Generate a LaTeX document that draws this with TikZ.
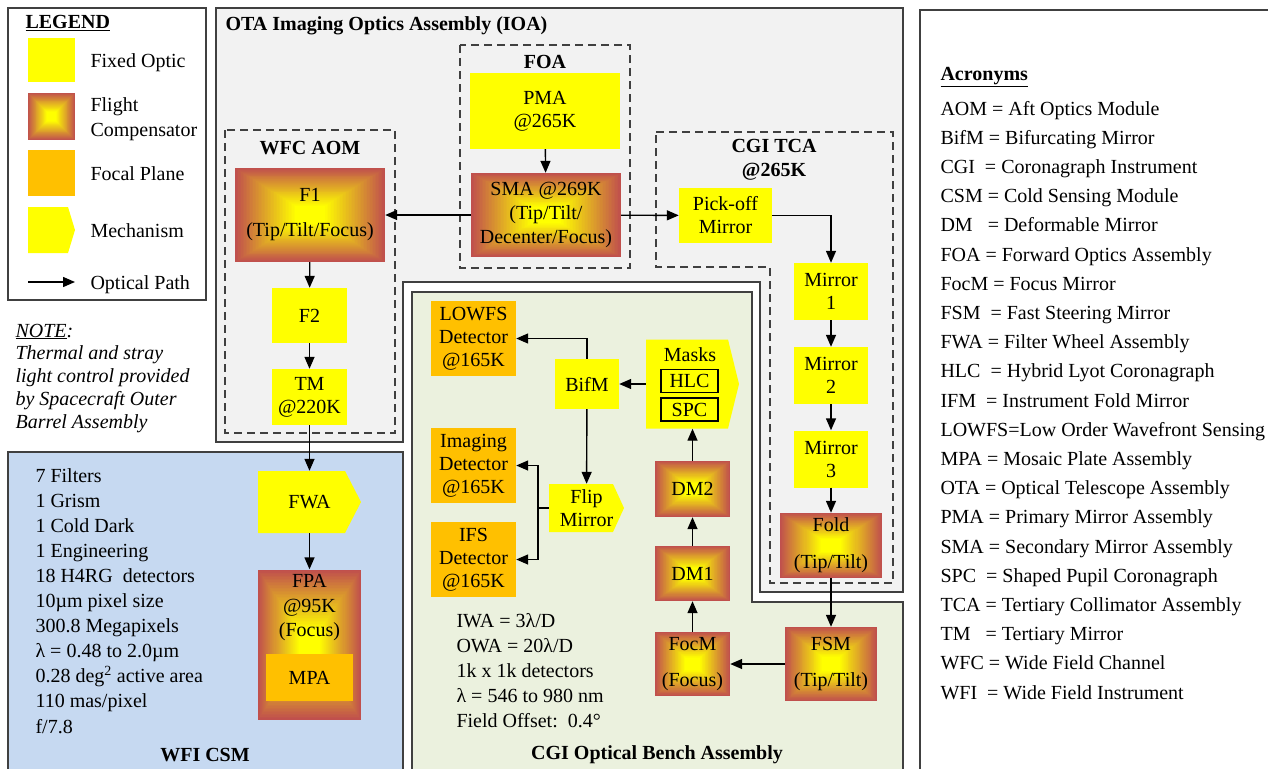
\documentclass[tikz,border=0pt]{standalone}
\usepackage{fontspec}
\setmainfont{Liberation Serif}
\usetikzlibrary{arrows.meta,calc}

\definecolor{fixedyellow}{HTML}{FFFF00}
\definecolor{focalorange}{HTML}{FFC000}
\definecolor{compred}{HTML}{C0504D}
\definecolor{otagray}{HTML}{F2F2F2}
\definecolor{benchgreen}{HTML}{EBF1DE}
\definecolor{wfiblue}{HTML}{C6D9F1}
\definecolor{edgegray}{HTML}{404040}

\tikzset{
  fixedbox/.style={fill=fixedyellow, align=center, inner sep=0pt},
  focalbox/.style={fill=focalorange, align=center, inner sep=0pt},
  compbox/.style={fill=compred, align=center, inner sep=0pt,
    path picture={
      \foreach \k in {0,...,48}{
        \pgfmathtruncatemacro{\pct}{min(100,2.5*\k)}
        \fill[fixedyellow!\pct!compred]
          ($(path picture bounding box.south west)!\k/100!(path picture bounding box.north east)$)
          rectangle
          ($(path picture bounding box.north east)!\k/100!(path picture bounding box.south west)$);
      }}},
  mechbox/.style={align=center, inner sep=0pt,
    path picture={
      \fill[fixedyellow] (path picture bounding box.north west)
        -- ([xshift=-#1]path picture bounding box.north east)
        -- (path picture bounding box.east)
        -- ([xshift=-#1]path picture bounding box.south east)
        -- (path picture bounding box.south west) -- cycle;}},
  mechbox/.default=14pt,
  dashbox/.style={draw=edgegray, line width=1.5pt, dash pattern=on 8pt off 5pt},
  panel/.style={draw=edgegray, line width=1.6pt},
  optpath/.style={->, line width=1.4pt}
}

\begin{document}
\begin{tikzpicture}[x=1pt, y=-1pt, >={Triangle[length=12pt, width=10pt]},
  font=\fontsize{20}{23}\selectfont]
\useasboundingbox (0,0) rectangle (1268,768);

% panels
\draw[panel, fill=white] (8,8) rectangle (206,300);
\draw[panel, fill=otagray] (216,8) -- (903,8) -- (903,592) -- (760,592) -- (760,282)
  -- (403,282) -- (403,442) -- (216,442) -- cycle;
\draw[panel, fill=benchgreen] (412,292) -- (752,292) -- (752,602) -- (903,602)
  -- (903,780) -- (412,780) -- cycle;
\draw[panel, fill=wfiblue] (8,452) rectangle (403,780);
\draw[panel, fill=white] (920,10) rectangle (1280,780);

% dashed sub-assemblies
\draw[dashbox] (460,45) rectangle (630,268);
\draw[dashbox] (225,130) rectangle (395,433);
\draw[dashbox] (656,132) -- (893,132) -- (893,583) -- (770,583) -- (770,267)
  -- (656,267) -- cycle;

% legend
\node[anchor=base west] (legtitle) at (22,29) {\bfseries\underline{LEGEND}};
\node[fixedbox, minimum width=47, minimum height=44] (legfixed) at (51.5,60) {};
\node[compbox, minimum width=47, minimum height=47] (legcomp) at (51.5,116.5) {};
\node[focalbox, minimum width=47, minimum height=46] (legfocal) at (51.5,173) {};
\node[mechbox=7pt, minimum width=47, minimum height=46] (legmech) at (51.5,230) {};
\node[anchor=base west] (lfixed) at (87,67) {Fixed Optic};
\node[anchor=base west] (lcompA) at (87,111) {Flight};
\node[anchor=base west] (lcompB) at (87,136) {Compensator};
\node[anchor=base west] (lfocal) at (87,180) {Focal Plane};
\node[anchor=base west] (lmech) at (87,237) {Mechanism};
\coordinate (legA) at (28,282);
\coordinate (legB) at (75,282);
\draw[optpath] (legA) -- (legB);
\node[anchor=base west] (lpath) at (87,289) {Optical Path};

% note
\node[anchor=base west] (noteA) at (12,337) {\itshape\underline{NOTE}:};
\foreach \txt [count=\i] in {Thermal and stray, light control provided,
    by Spacecraft Outer, Barrel Assembly}
  \node[anchor=base west] (note\i) at (12,336+23*\i) {\itshape\txt};

% titles
\node[anchor=base west] (otatitle) at (222,31) {\bfseries OTA Imaging Optics Assembly (IOA)};
\node (foatitle) at (545,62) {\bfseries FOA};
\node (wfctitle) at (310,148) {\bfseries WFC AOM};
\node[align=center, font=\fontsize{20}{24}\selectfont\bfseries] (tcatitle) at (774,160) {CGI TCA\\@265K};
\node (benchtitle) at (657,755) {\bfseries CGI Optical Bench Assembly};
\node (wfititle) at (205,755) {\bfseries WFI CSM};

% OTA optics
\node[fixedbox, minimum width=150, minimum height=76] (pma) at (545,111) {PMA\\@265K};
\node[compbox, minimum width=150, minimum height=84, font=\fontsize{20}{24}\selectfont]
  (sma) at (546,215) {SMA @269K\\(Tip/Tilt/\\Decenter/Focus)};
\node[compbox, minimum width=150, minimum height=94] (fone) at (310,215) {F1\\[12pt](Tip/Tilt/Focus)};
\node[fixedbox, minimum width=75, minimum height=55] (ftwo) at (309.5,315.5) {F2};
\node[fixedbox, minimum width=75, minimum height=56] (tm) at (309.5,397) {TM\\@220K};

% CGI TCA
\node[fixedbox, minimum width=93, minimum height=55] (pick) at (725.5,215.5) {Pick-off\\Mirror};
\node[fixedbox, minimum width=74, minimum height=57] (mirA) at (831,291.5) {Mirror\\1};
\node[fixedbox, minimum width=74, minimum height=57] (mirB) at (831,375.5) {Mirror\\2};
\node[fixedbox, minimum width=74, minimum height=57] (mirC) at (831,459) {Mirror\\3};
\node[compbox, minimum width=102, minimum height=65] (fold) at (831,545.5) {Fold\\[14pt](Tip/Tilt)};

% CGI optical bench
\node[compbox, minimum width=92, minimum height=74] (fsm) at (831,664) {FSM\\[13pt](Tip/Tilt)};
\node[compbox, minimum width=75, minimum height=64] (focm) at (692.5,664) {FocM\\[13pt](Focus)};
\node[compbox, minimum width=75, minimum height=55] (dmone) at (692.5,573.5) {DM1};
\node[compbox, minimum width=75, minimum height=56] (dmtwo) at (692.5,489) {DM2};
\node[mechbox=11pt, minimum width=93, minimum height=89] (masks) at (692.5,384) {};
\node (maskstxt) at (690,355) {Masks};
\node[draw, line width=1.3pt, minimum width=57, minimum height=23, inner sep=0pt] (hlc) at (689.5,381) {HLC};
\node[draw, line width=1.3pt, minimum width=57, minimum height=23, inner sep=0pt] (spc) at (689.5,409.5) {SPC};
\node[fixedbox, minimum width=64, minimum height=50] (bifm) at (587,384) {BifM};
\node[mechbox=11pt, minimum width=75, minimum height=48] (flip) at (586.5,508) {Flip\\Mirror};
\node[focalbox, minimum width=85, minimum height=75] (lowfs) at (473.5,338.5) {LOWFS\\Detector\\@165K};
\node[focalbox, minimum width=85, minimum height=75] (imgdet) at (473.5,465.5) {Imaging\\Detector\\@165K};
\node[focalbox, minimum width=85, minimum height=75] (ifsdet) at (473.5,559.5) {IFS\\Detector\\@165K};
\coordinate (fork) at (538,508);
\foreach \txt [count=\i from 0] in {IWA = 3λ/D, OWA = 20λ/D, 1k x 1k detectors,
    λ = 546 to 980 nm, Field Offset:\ \ 0.4°}
  \node[anchor=base west] (cgiinfo\i) at (453,627+25.2*\i) {\txt};

% WFI CSM
\node[mechbox=16pt, minimum width=103, minimum height=62] (fwa) at (309.5,502) {FWA};
\node[compbox, minimum width=103, minimum height=150] (fpa) at (309.5,644.5) {};
\node[align=center, font=\fontsize{20}{24.5}\selectfont] (fpatxt) at (309.5,608) {FPA\\@95K\\(Focus)};
\node[focalbox, minimum width=87, minimum height=47] (mpa) at (309.5,677.5) {MPA};
\foreach \txt [count=\i from 0] in {7 Filters, 1 Grism, 1 Cold Dark, 1 Engineering,
    18 H4RG\ \ detectors, 10µm pixel size, 300.8 Megapixels, λ = 0.48 to 2.0µm,
    0.28 deg\textsuperscript{2} active area, 110 mas/pixel, f/7.8}
  \node[anchor=base west] (wfiinfo\i) at (32,482+25.1*\i) {\txt};

% acronyms
\node[anchor=base west] (acrtitle) at (937,80) {\bfseries\underline{Acronyms}};
\foreach \acr [count=\i from 0] in {AOM = Aft Optics Module, BifM = Bifurcating Mirror,
    CGI\ \ = Coronagraph Instrument, CSM = Cold Sensing Module,
    DM\ \ \ = Deformable Mirror, FOA\ = Forward Optics Assembly,
    FocM = Focus Mirror, FSM\ \ = Fast Steering Mirror,
    FWA = Filter Wheel Assembly, HLC\ \ = Hybrid Lyot Coronagraph,
    IFM\ \ = Instrument Fold Mirror, LOWFS=Low Order Wavefront Sensing,
    MPA = Mosaic Plate Assembly, OTA = Optical Telescope Assembly,
    PMA = Primary Mirror Assembly, SMA = Secondary Mirror Assembly,
    SPC\ \ = Shaped Pupil Coronagraph, TCA = Tertiary Collimator Assembly,
    TM\ \ \ = Tertiary Mirror, WFC = Wide Field Channel,
    WFI\ \ = Wide Field Instrument}
  \node[anchor=base west] (acr\i) at (937,115+29.2*\i) {\acr};

% optical path
\draw[optpath] (pma) -- (sma);
\draw[optpath] (sma) -- (fone);
\draw[optpath] (sma) -- (pick);
\draw[optpath] (pick.east) -| (mirA.north);
\draw[optpath] (mirA) -- (mirB);
\draw[optpath] (mirB) -- (mirC);
\draw[optpath] (mirC) -- (fold);
\draw[optpath] (fold) -- (fsm);
\draw[optpath] (fsm) -- (focm);
\draw[optpath] (focm) -- (dmone);
\draw[optpath] (dmone) -- (dmtwo);
\draw[optpath] (dmtwo) -- (masks);
\draw[optpath] (masks) -- (bifm);
\draw[optpath] (bifm.north) |- (lowfs.east);
\draw[optpath] (bifm) -- (flip);
\draw[line width=1.4pt] (flip.west) -- (fork);
\draw[optpath] (fork) |- (imgdet.east);
\draw[optpath] (fork) |- (ifsdet.east);
\draw[optpath] (fone) -- (ftwo);
\draw[optpath] (ftwo) -- (tm);
\draw[optpath] (tm) -- (fwa);
\draw[optpath] (fwa) -- (fpa);
\end{tikzpicture}
\end{document}
